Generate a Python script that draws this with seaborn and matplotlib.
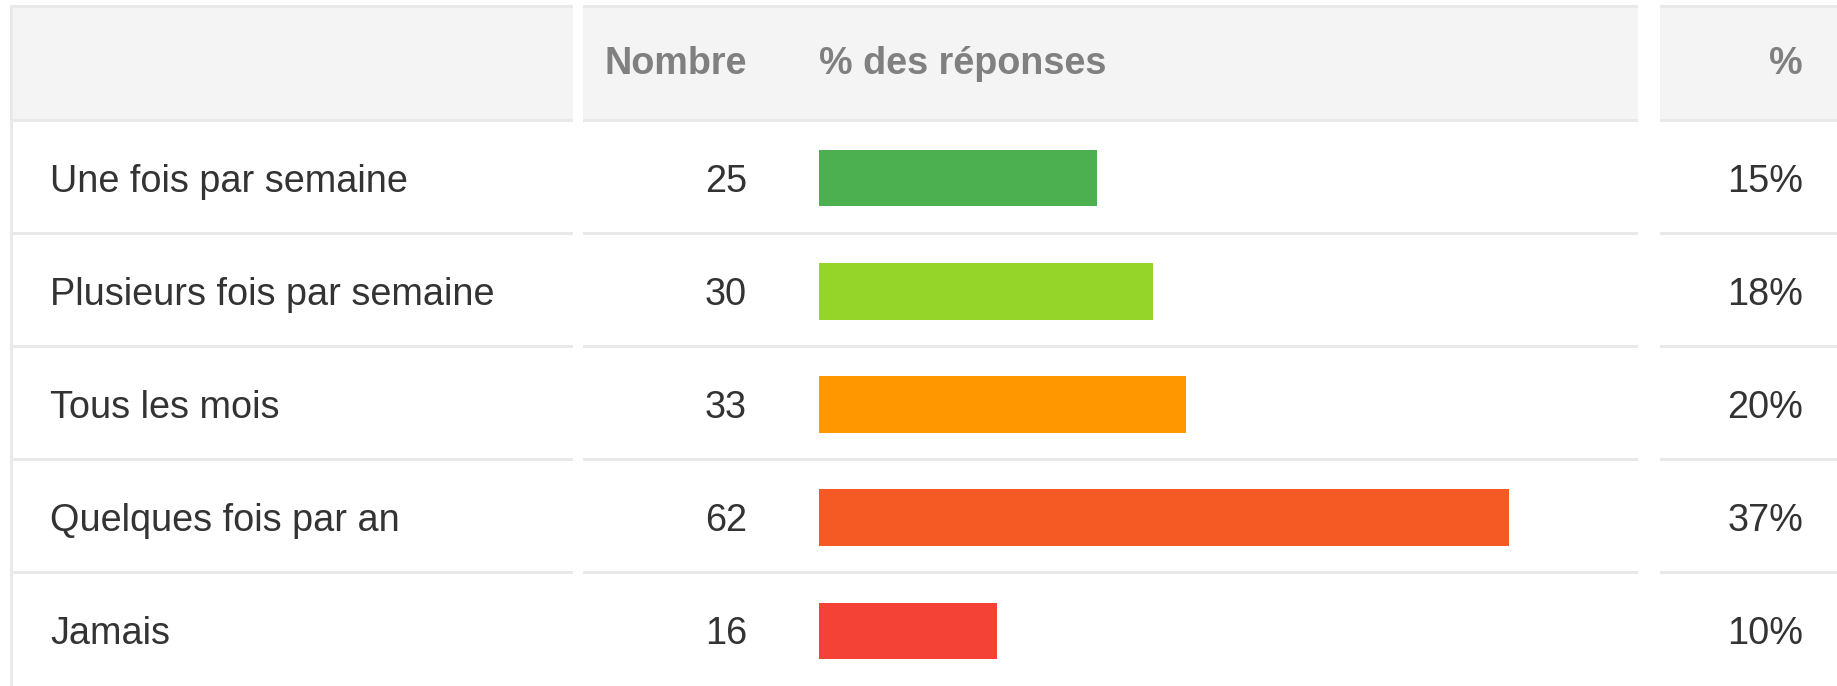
import matplotlib
matplotlib.use("Agg")
import matplotlib.pyplot as plt
from matplotlib.patches import Rectangle
import seaborn as sns

# Données du tableau
reponses = ["Une fois par semaine", "Plusieurs fois par semaine", "Tous les mois",
            "Quelques fois par an", "Jamais"]
nombres = [25, 30, 33, 62, 16]
pourcentages = [15, 18, 20, 37, 10]
couleurs = ["#4caf50", "#95d52a", "#ff9800", "#f65a24", "#f44336"]
entetes = ["Nombre", "% des réponses", "%"]

# Mise en page (pixels)
W, H = 1837, 686
top, head_bot = 7, 120
row_h = (H - head_bot) / len(reponses)
cols = [(12, 573), (583, 1638), (1660, W)]
bar_left, bar_right = 819, 1638
px_par_unite = 690 / 62  # largeur d'une réponse en pixels

sns.set_theme(style="white")
plt.rcParams['font.family'] = ['Liberation Sans', 'DejaVu Sans']

fig = plt.figure(figsize=(W / 100, H / 100), dpi=100)
fig.patch.set_facecolor("white")

ax = fig.add_axes([0, 0, 1, 1])
ax.set_xlim(0, W)
ax.set_ylim(H, 0)
ax.axis("off")

ligne = "#e9e9e9"
# en-tête et séparateurs
for x0, x1 in cols:
    ax.add_patch(Rectangle((x0, top), x1 - x0, head_bot - top, color="#f4f4f4", lw=0))
    ax.add_patch(Rectangle((x0, top - 2), x1 - x0, 3, color=ligne, lw=0))
    for i in range(len(reponses)):
        y = head_bot + i * row_h
        ax.add_patch(Rectangle((x0, y - 1.5), x1 - x0, 3, color=ligne, lw=0))
# bordure gauche
ax.add_patch(Rectangle((10, top - 2), 3, H, color=ligne, lw=0))

hy = (top + head_bot) / 2
style_entete = dict(va="center", fontsize=27.2, fontweight="bold", color="#808080")
ax.text(747, hy, entetes[0], ha="right", **style_entete)
ax.text(819, hy, entetes[1], ha="left", **style_entete)
ax.text(1803, hy, entetes[2], ha="right", **style_entete)

style_corps = dict(va="center_baseline", fontsize=27.3, color="#333333")
for i, (rep, n, p) in enumerate(zip(reponses, nombres, pourcentages)):
    yc = head_bot + (i + 0.5) * row_h + 1
    ax.text(50, yc, rep, ha="left", **style_corps)
    ax.text(747, yc, str(n), ha="right", **style_corps)
    ax.text(1803, yc, f"{p}%", ha="right", **style_corps)

# barres
bax = fig.add_axes([bar_left / W, -1.5 / H, (bar_right - bar_left) / W, (H - head_bot) / H])
sns.barplot(x=nombres, y=reponses, hue=reponses, palette=couleurs, orient="h",
            width=0.5, saturation=1, legend=False, ax=bax, linewidth=0)
bax.set_xlim(0, (bar_right - bar_left) / px_par_unite)
bax.set_ylim(len(reponses) - 0.5, -0.5)
bax.patch.set_alpha(0)
bax.axis("off")

fig.savefig("out.png", dpi=100, facecolor="white")
